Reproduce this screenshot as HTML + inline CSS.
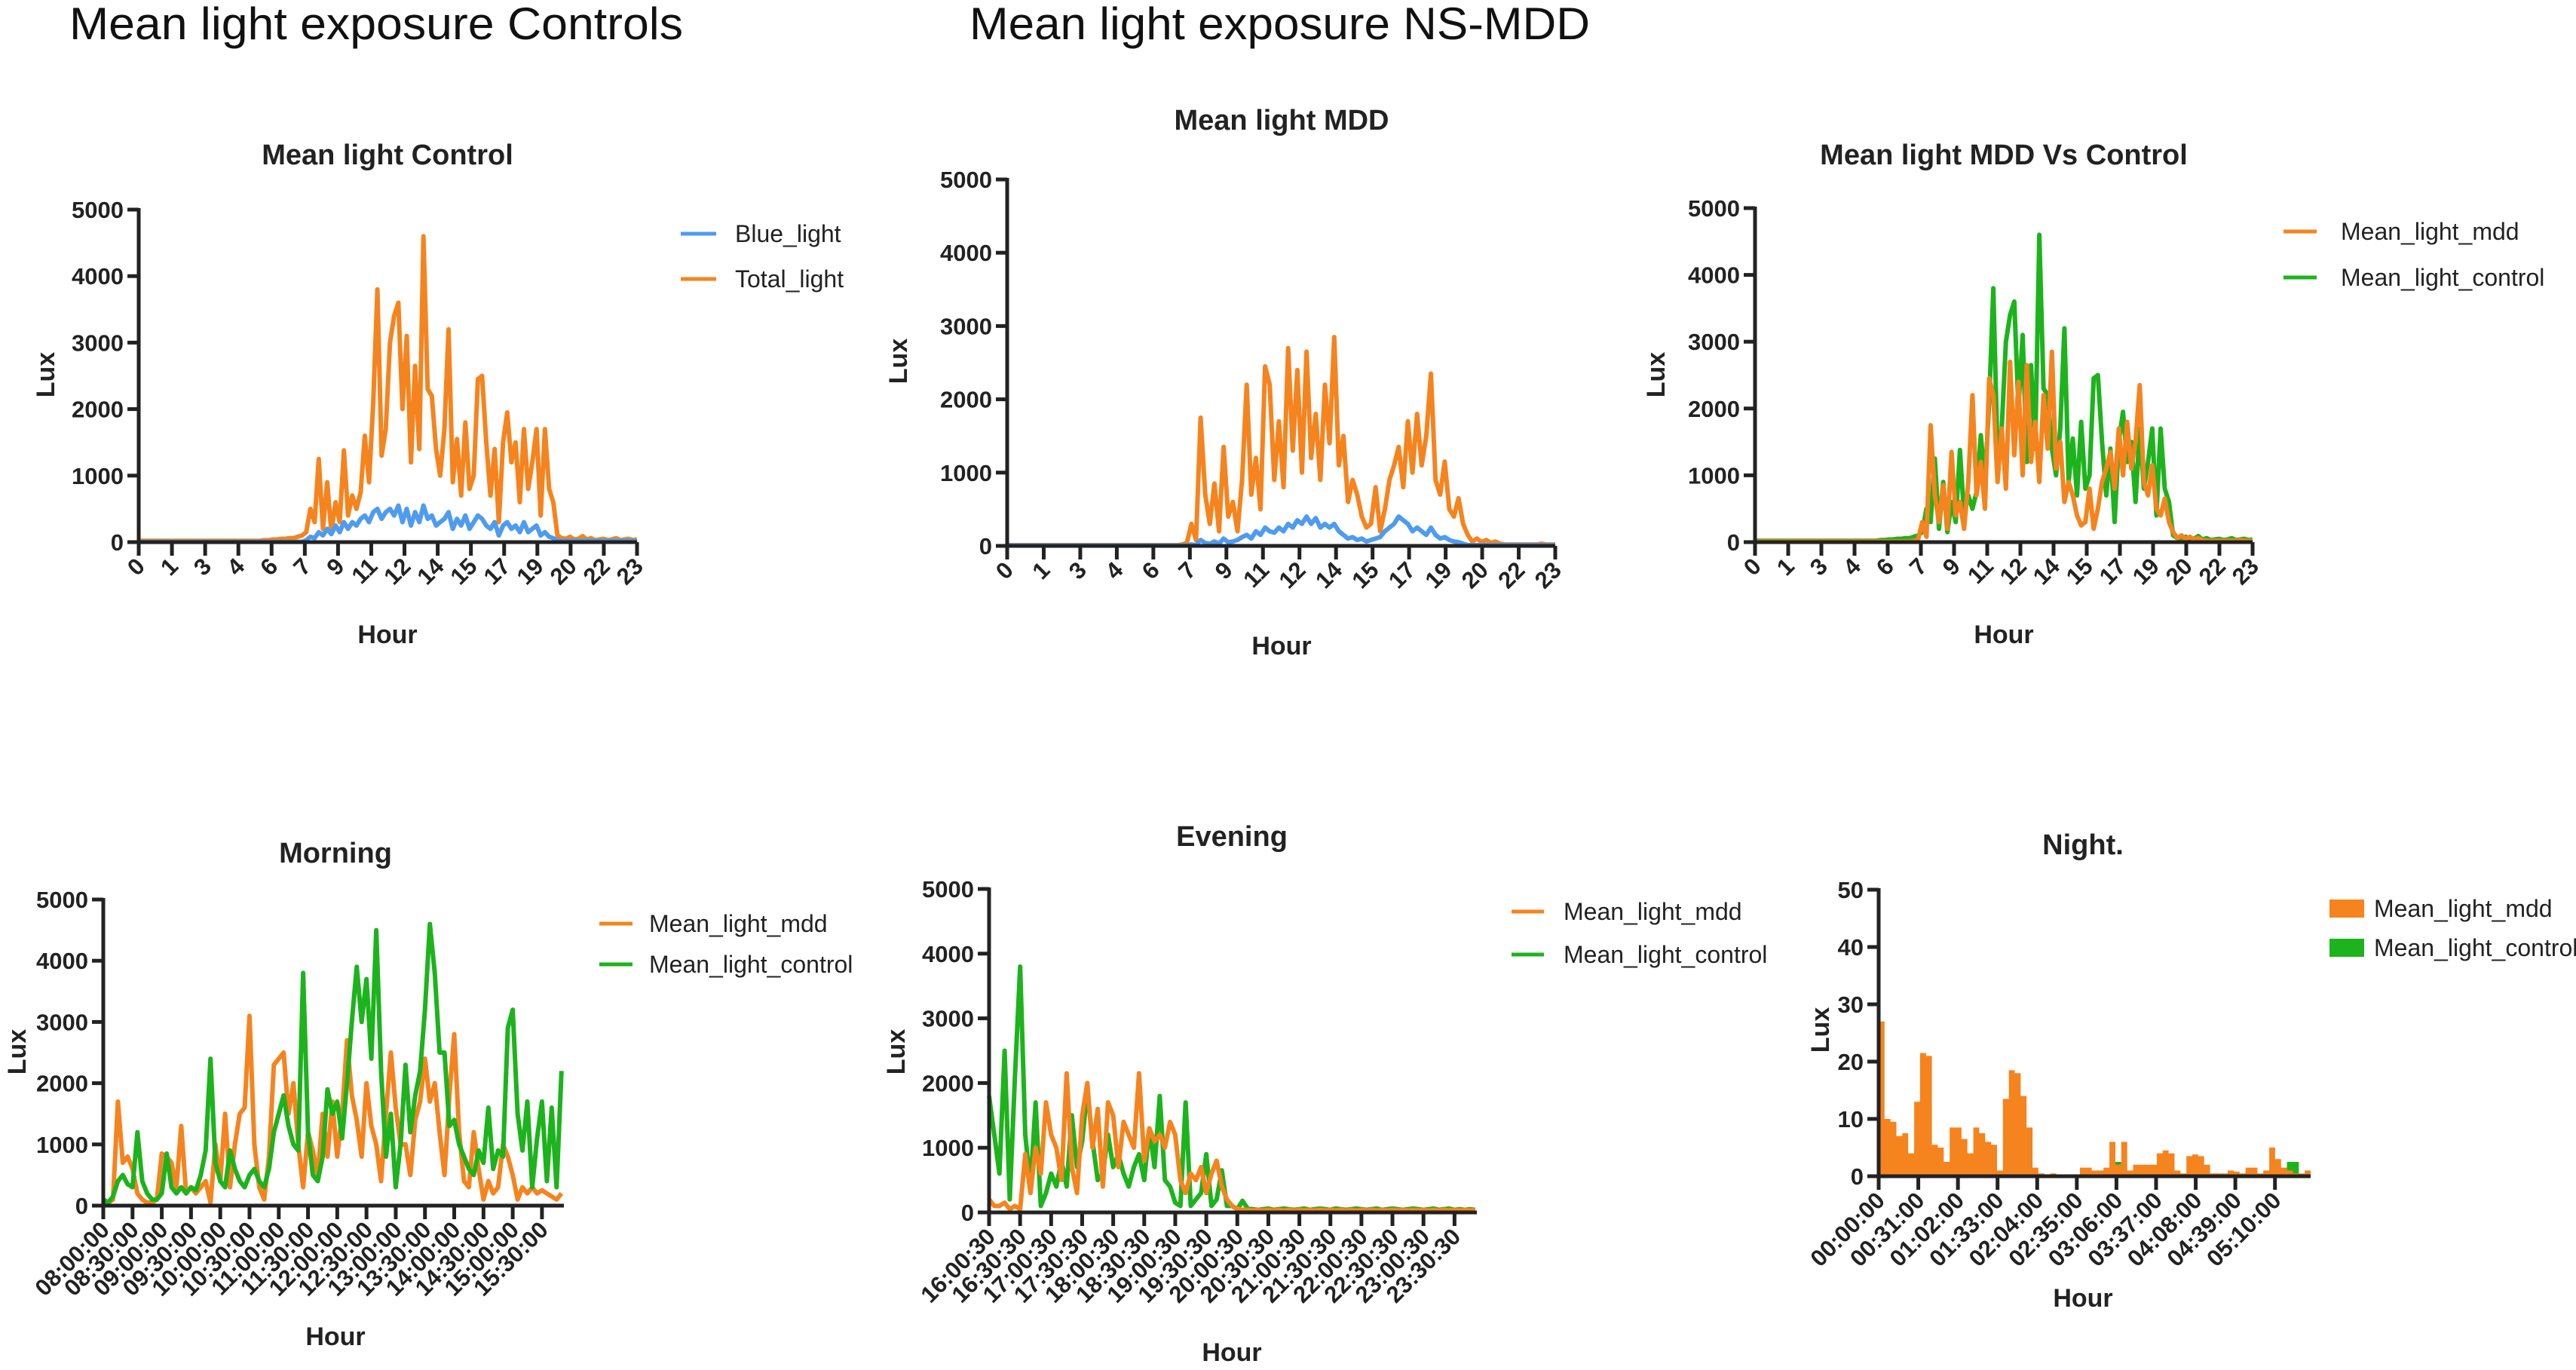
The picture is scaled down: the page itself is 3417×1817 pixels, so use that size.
<!DOCTYPE html>
<html><head><meta charset="utf-8"><title>Mean light exposure</title>
<style>
html,body{margin:0;padding:0;background:#fff;}
svg{display:block;font-family:"Liberation Sans",Arial,sans-serif;}
.hdr{font-size:60px;fill:#111;}
.ttl{font-size:38px;font-weight:bold;fill:#222;text-anchor:middle;}
.ax{font-size:34px;font-weight:bold;fill:#222;text-anchor:middle;}
.tk{font-size:31px;font-weight:bold;fill:#222;}
.lg{font-size:32px;fill:#222;}
</style></head>
<body>
<svg id="fig" width="3417" height="1817" viewBox="0 0 3417 1817" xmlns="http://www.w3.org/2000/svg">
<rect width="3417" height="1817" fill="#fff"/>
<text class="hdr" x="92" y="52" textLength="814" lengthAdjust="spacingAndGlyphs">Mean light exposure Controls</text>
<text class="hdr" x="1286" y="52" textLength="823" lengthAdjust="spacingAndGlyphs">Mean light exposure NS-MDD</text>

<text class="ttl" x="514" y="218">Mean light Control</text>
<text class="ttl" x="1700" y="172">Mean light MDD</text>
<text class="ttl" x="2658" y="218">Mean light MDD Vs Control</text>
<text class="ttl" x="445" y="1144">Morning</text>
<text class="ttl" x="1634" y="1122">Evening</text>
<text class="ttl" x="2763" y="1133">Night.</text>

<text class="ax" x="514" y="853">Hour</text>
<text class="ax" x="1700" y="868">Hour</text>
<text class="ax" x="2658" y="853">Hour</text>
<text class="ax" x="445" y="1784">Hour</text>
<text class="ax" x="1634" y="1805">Hour</text>
<text class="ax" x="2763" y="1733">Hour</text>

<text class="ax" transform="translate(72,497) rotate(-90)">Lux</text>
<text class="ax" transform="translate(1203,479) rotate(-90)">Lux</text>
<text class="ax" transform="translate(2208,497) rotate(-90)">Lux</text>
<text class="ax" transform="translate(34,1395) rotate(-90)">Lux</text>
<text class="ax" transform="translate(1200,1395) rotate(-90)">Lux</text>
<text class="ax" transform="translate(2426,1366) rotate(-90)">Lux</text>

<g>
<line x1="903" y1="310" x2="950" y2="310" stroke="#4F9BEF" stroke-width="5"/>
<text class="lg" x="975" y="321">Blue_light</text>
<line x1="903" y1="370" x2="950" y2="370" stroke="#F5841F" stroke-width="5"/>
<text class="lg" x="975" y="381">Total_light</text>
</g>
<g>
<line x1="3029" y1="307" x2="3073" y2="307" stroke="#F5841F" stroke-width="5"/>
<text class="lg" x="3105" y="318">Mean_light_mdd</text>
<line x1="3029" y1="368" x2="3073" y2="368" stroke="#1DB31D" stroke-width="5"/>
<text class="lg" x="3105" y="379">Mean_light_control</text>
</g>
<g>
<line x1="795" y1="1225" x2="839" y2="1225" stroke="#F5841F" stroke-width="5"/>
<text class="lg" x="861" y="1236">Mean_light_mdd</text>
<line x1="795" y1="1279" x2="839" y2="1279" stroke="#1DB31D" stroke-width="5"/>
<text class="lg" x="861" y="1290">Mean_light_control</text>
</g>
<g>
<line x1="2005" y1="1209" x2="2048" y2="1209" stroke="#F5841F" stroke-width="5"/>
<text class="lg" x="2074" y="1220">Mean_light_mdd</text>
<line x1="2005" y1="1266" x2="2048" y2="1266" stroke="#1DB31D" stroke-width="5"/>
<text class="lg" x="2074" y="1277">Mean_light_control</text>
</g>
<g>
<rect x="3090" y="1193" width="46" height="24" fill="#F5841F"/>
<text class="lg" x="3149" y="1216">Mean_light_mdd</text>
<rect x="3090" y="1245" width="46" height="24" fill="#1DB31D"/>
<text class="lg" x="3149" y="1268">Mean_light_control</text>
</g>
</svg>
<script>
const hourTicks=['0','1','3','4','6','7','9','11','12','14','15','17','19','20','22','23'];
const luxTicks=[0,1000,2000,3000,4000,5000];
const nightLuxTicks=[0,10,20,30,40,50];
const ctrlTotal=[20,20,20,20,20,20,20,20,20,20,20,20,20,20,20,20,20,20,20,20,20,20,20,20,20,20,20,20,20,20,30,30,40,40,50,50,60,60,80,100,
150,500,300,1250,200,900,150,600,300,1380,400,700,500,750,1600,900,2100,3800,1300,1700,
3000,3400,3600,2000,3100,1200,2650,1400,4600,2300,2200,1400,1000,1700,3200,900,1550,700,1800,800,
1000,2450,2500,1500,700,1400,300,1500,1950,1200,1500,600,1700,800,1200,1700,400,1700,800,600,
100,60,50,80,40,50,90,40,60,30,40,50,30,40,60,30,40,50,30,40];
const ctrlBlue=[5,5,5,5,5,5,5,5,5,5,5,5,5,5,5,5,5,5,5,5,5,5,5,5,5,5,5,5,5,5,5,5,5,5,5,5,5,5,5,5,
30,80,60,150,100,200,120,250,150,300,200,300,250,350,400,300,450,500,350,450,
500,400,550,300,500,250,450,300,550,350,400,250,300,350,450,200,350,250,400,200,
300,400,350,250,200,300,100,250,300,200,250,150,300,150,200,250,100,150,80,60,
20,20,20,20,20,20,20,20,20,20,20,20,20,20,20,20,20,20,20,20];
const mddTotal=[10,10,10,10,10,10,10,10,10,10,10,10,10,10,10,10,10,10,10,10,10,10,10,10,10,10,10,10,10,10,10,10,10,10,10,10,10,10,20,40,
300,80,1750,700,300,850,200,1350,400,600,200,900,2200,700,1200,500,2450,2200,900,1700,
800,2700,1300,2400,1000,2650,1200,1800,900,2200,1400,2850,1100,1500,600,900,700,400,250,300,
800,200,500,900,1100,1350,800,1700,1000,1800,1100,1500,2350,900,700,1150,500,400,650,300,
150,60,100,50,80,40,60,30,20,20,20,20,20,20,20,20,30,20,20,20];
const mddBlue=[5,5,5,5,5,5,5,5,5,5,5,5,5,5,5,5,5,5,5,5,5,5,5,5,5,5,5,5,5,5,5,5,5,5,5,5,5,5,5,5,
20,10,80,40,30,60,30,100,50,60,80,120,150,100,200,150,250,200,180,250,
200,300,250,350,300,400,300,380,250,300,250,300,200,150,100,120,80,100,60,80,
100,120,200,250,300,400,350,300,200,250,200,150,250,150,100,120,80,60,50,30,
10,10,10,10,10,10,10,10,10,10,10,10,10,10,10,10,10,10,10,10];
const morningTicks=['08:00:00','08:30:00','09:00:00','09:30:00','10:00:00','10:30:00','11:00:00','11:30:00','12:00:00','12:30:00','13:00:00','13:30:00','14:00:00','14:30:00','15:00:00','15:30:00'];
const morningCtrl=[100,50,150,400,500,350,300,1200,400,200,100,100,200,850,300,200,300,200,300,250,
500,900,2400,700,400,300,900,600,400,300,500,600,400,300,600,1200,1500,1800,1300,1000,
900,3800,1200,500,400,800,1900,1500,1700,1100,2000,3000,3900,3000,3700,2400,4500,2200,800,1500,
300,1000,2300,1200,1800,2200,3200,4600,3800,2500,2500,1300,1400,1000,800,600,500,900,700,1600,
600,900,800,2900,3200,1500,900,1700,300,1100,1700,400,1600,300,2200];
const morningMdd=[100,50,100,1700,700,800,600,200,100,50,50,100,850,800,700,300,1300,200,300,200,
300,400,50,1000,400,1500,300,1000,1500,1600,3100,1000,300,100,800,2300,2400,2500,1500,2000,
1000,300,1200,900,500,1500,800,1700,800,1500,2700,1800,1400,800,2000,1300,1000,400,1500,2500,
1600,1000,1000,500,1400,1700,2400,1700,2000,1200,500,1800,2800,1200,400,300,1200,600,100,400,
200,300,1000,800,500,100,300,200,300,200,250,200,150,100,200];
const eveningTicks=['16:00:30','16:30:30','17:00:30','17:30:30','18:00:30','18:30:30','19:00:30','19:30:30','20:00:30','20:30:30','21:00:30','21:30:30','22:00:30','22:30:30','23:00:30','23:30:30'];
const eveningCtrl=[1800,1200,600,2500,200,2100,3800,1200,400,1700,100,300,600,400,800,400,1500,700,1100,1900,
1100,500,600,1200,700,900,600,400,700,900,500,1300,700,1800,500,400,150,100,1700,100,
200,300,900,100,200,650,100,100,50,180,60,50,40,50,60,40,50,60,50,40,
50,60,40,50,60,50,40,60,50,40,50,60,50,40,50,60,40,50,60,50,
40,50,60,50,40,50,60,40,50,60,40,50,40,50,40];
const eveningMdd=[200,100,100,150,50,100,50,900,300,1000,600,1700,1200,1000,500,2150,700,300,1500,2000,
1000,1600,400,1700,1500,700,1400,1200,1000,2150,800,1300,1100,1200,1000,1400,1200,500,300,600,
500,700,300,600,800,400,200,100,60,40,40,30,40,30,40,30,40,30,40,30,
40,30,40,30,40,30,40,30,40,30,40,30,40,30,40,30,40,30,40,30,
40,30,40,30,40,30,40,30,40,30,40,30,40,30,40];
const nightTicks=['00:00:00','00:31:00','01:02:00','01:33:00','02:04:00','02:35:00','03:06:00','03:37:00','04:08:00','04:39:00','05:10:00'];
const nightMdd=[27,10,9.5,7,7.5,4,13,21.5,21,5.5,5,2.5,8.5,8.5,6.5,4,8.5,7.5,6,5.5,1,13.5,18.5,18,14,8.5,1.5,
0.5,0.3,0.5,0.3,0.2,0.3,0.3,1.5,1.5,1,1,1.5,6,2,6,1,2,2,2,2,4,4.5,4,1,0.5,3.5,3.8,3.5,2,0.5,0.5,0.5,1,0.8,0.5,1.5,1.5,0.5,1,5,3,1.5,1,0.5,0.5,1];
const nightCtrl=[0,0,0,0,0,0,5,0,0,0,0,0,0,0,0,0,0,3.5,0,0,0,0,0,0,0,0,0,
0,0,0,0,0,0,0,0,0,0,0,0,0,2.5,0,0,0,0,0,0,0,0,0,0,0,0,0,0,0,0,0,0,0,0,0,0,0,0,0,0,0,0,2.5,2.5,0,0];

const NS='http://www.w3.org/2000/svg';
const fig=document.getElementById('fig');
const ORANGE='#F5841F', GREEN='#1DB31D', BLUE='#4F9BEF', AXC='#222';

function el(tag,parent,attrs){
  const e=document.createElementNS(NS,tag);
  for(const k in attrs) e.setAttribute(k,attrs[k]);
  parent.appendChild(e);
  return e;
}
function makeChart(c){
  const g=el('g',fig,{});
  
  
  c.xs=u=>c.x0+u/c.uMax*(c.xEnd-c.x0);
  c.ys=v=>c.y0-v/c.yMax*(c.y0-c.yTop);
  c.g=g;
  return c;
}
function drawLine(c,vals,step,color,name){
  let d='';
  vals.forEach((v,i)=>{d+=(i?'L':'M')+c.xs(i*step).toFixed(1)+' '+c.ys(v).toFixed(1);});
  const p=el('path',c.g,{d:d,fill:'none',stroke:color,'stroke-width':6,'stroke-linejoin':'round'});
  
  
}
function drawBars(c,vals,color,name){
  const w=c.uMax/vals.length;
  let d='M'+c.xs(0)+' '+c.ys(0);
  vals.forEach((v,i)=>{d+='L'+c.xs(i*w).toFixed(1)+' '+c.ys(v).toFixed(1)+'L'+c.xs((i+1)*w).toFixed(1)+' '+c.ys(v).toFixed(1);});
  d+='L'+c.xs(vals.length*w).toFixed(1)+' '+c.ys(0)+'Z';
  const p=el('path',c.g,{d:d,fill:color,stroke:'none'});
  
  
}
function drawAxes(c,yTicks,xTicks,fs){
  const ya=el('line',c.g,{x1:c.x0,y1:c.yTop-2,x2:c.x0,y2:c.y0+2,stroke:AXC,'stroke-width':5});
  
  
  const xa=el('line',c.g,{x1:c.x0-2,y1:c.y0,x2:c.xEnd,y2:c.y0,stroke:AXC,'stroke-width':5});
  
  
  yTicks.forEach(v=>{
    const y=c.ys(v);
    const t=el('line',c.g,{x1:c.x0-15,y1:y,x2:c.x0,y2:y,stroke:AXC,'stroke-width':5});
    
    
    const tx=el('text',c.g,{x:c.x0-20,y:y+11,'text-anchor':'end','class':'tk'});
    
    
    tx.textContent=String(v);
  });
  xTicks.forEach((lab,k)=>{
    const x=c.xs(k);
    const t=el('line',c.g,{x1:x,y1:c.y0,x2:x,y2:c.y0+18,stroke:AXC,'stroke-width':5});
    
    
    const tx=el('text',c.g,{'text-anchor':'end','class':'tk',transform:'translate('+(x+10)+','+(c.y0+34)+') rotate(-45)'});
    
    
    if(fs) tx.setAttribute('font-size',fs);
    tx.textContent=lab;
  });
}
const s120=15/119;
const c1=makeChart({name:'chart-mean-light-control',x0:184,xEnd:845,y0:719,yTop:278,uMax:15,yMax:5000});
drawLine(c1,ctrlTotal,s120,ORANGE,'line-total-light');
drawLine(c1,ctrlBlue,s120,BLUE,'line-blue-light');
drawAxes(c1,luxTicks,hourTicks);
const c2=makeChart({name:'chart-mean-light-mdd',x0:1336,xEnd:2063,y0:724,yTop:238,uMax:15,yMax:5000});
drawLine(c2,mddTotal,s120,ORANGE,'line-total-light-mdd');
drawLine(c2,mddBlue,s120,BLUE,'line-blue-light-mdd');
drawAxes(c2,luxTicks,hourTicks);
const c3=makeChart({name:'chart-mdd-vs-control',x0:2328,xEnd:2988,y0:719,yTop:276,uMax:15,yMax:5000});
drawLine(c3,ctrlTotal,s120,GREEN,'line-mean-light-control');
drawLine(c3,mddTotal,s120,ORANGE,'line-mean-light-mdd');
drawAxes(c3,luxTicks,hourTicks);
const c4=makeChart({name:'chart-morning',x0:137,xEnd:748,y0:1599,yTop:1193,uMax:15.75,yMax:5000});
drawLine(c4,morningMdd,1/6,ORANGE,'line-morning-mdd');
drawLine(c4,morningCtrl,1/6,GREEN,'line-morning-control');
drawAxes(c4,luxTicks,morningTicks,'26');
const c5=makeChart({name:'chart-evening',x0:1312,xEnd:1959,y0:1608,yTop:1179,uMax:15.72,yMax:5000});
drawLine(c5,eveningCtrl,1/6,GREEN,'line-evening-control');
drawLine(c5,eveningMdd,1/6,ORANGE,'line-evening-mdd');
drawAxes(c5,luxTicks,eveningTicks,'26');
const c6=makeChart({name:'chart-night',x0:2492,xEnd:3065,y0:1560,yTop:1180,uMax:10.9,yMax:50});
drawBars(c6,nightCtrl,GREEN,'bars-night-control');
drawBars(c6,nightMdd,ORANGE,'bars-night-mdd');
drawAxes(c6,nightLuxTicks,nightTicks,'26');
</script>
</body></html>
